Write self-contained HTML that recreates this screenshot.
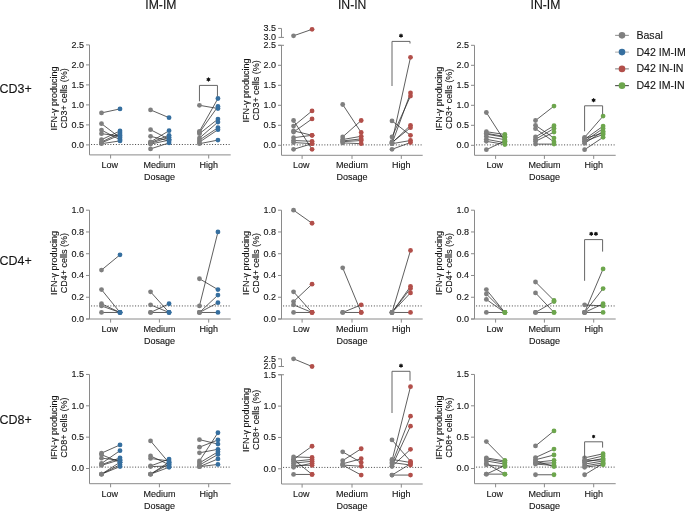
<!DOCTYPE html><html><head><meta charset="utf-8"><title>IFN-gamma producing cells</title><style>
html,body{margin:0;padding:0;background:#fff;width:685px;height:511px;overflow:hidden}
svg{display:block;will-change:transform}
text{font-family:"Liberation Sans",sans-serif;fill:#141414;stroke:#141414;stroke-width:0.12px}
.t{font-size:9px}.tk{font-size:9px;text-anchor:end}.c{text-anchor:middle}
.h{font-size:12.5px}.ht{font-size:12.2px}.lg{font-size:10.6px}
</style></head><body>
<svg width="685" height="511" viewBox="0 0 685 511">
<text class="ht c" x="160.9" y="9.2">IM-IM</text>
<text class="ht c" x="352.2" y="9.2">IN-IN</text>
<text class="ht c" x="545.5" y="9.2">IN-IM</text>
<text class="h" x="-0.6" y="92.8">CD3+</text>
<text class="h" x="-0.6" y="264.6">CD4+</text>
<text class="h" x="-0.6" y="424.2">CD8+</text>
<line x1="615.1" y1="35.35" x2="628.9" y2="35.35" stroke="#8c8c8c" stroke-width="1"/>
<circle cx="622" cy="35.35" r="3.3" fill="#7f7f7f"/>
<text class="lg" x="636.4" y="38.85">Basal</text>
<line x1="615.1" y1="52.12" x2="628.9" y2="52.12" stroke="#a8a8a8" stroke-width="1"/>
<circle cx="622" cy="52.12" r="3.3" fill="#366f9f"/>
<text class="lg" x="636.4" y="55.62">D42 IM-IM</text>
<line x1="615.1" y1="68.89" x2="628.9" y2="68.89" stroke="#7a7a7a" stroke-width="1"/>
<circle cx="622" cy="68.89" r="3.3" fill="#b24f4a"/>
<text class="lg" x="636.4" y="72.39">D42 IN-IN</text>
<line x1="615.1" y1="85.66" x2="628.9" y2="85.66" stroke="#3a3a3a" stroke-width="1"/>
<circle cx="622" cy="85.66" r="3.3" fill="#6da64d"/>
<text class="lg" x="636.4" y="89.16">D42 IM-IN</text>
<path d="M89.5 44.9V154.9H230.7" fill="none" stroke="#8a8a8a" stroke-width="1"/><line x1="86" y1="144.9" x2="89.5" y2="144.9" stroke="#8a8a8a" stroke-width="1"/><text class="tk" x="84.1" y="147.8">0.0</text><line x1="86" y1="124.9" x2="89.5" y2="124.9" stroke="#8a8a8a" stroke-width="1"/><text class="tk" x="84.1" y="127.8">0.5</text><line x1="86" y1="104.9" x2="89.5" y2="104.9" stroke="#8a8a8a" stroke-width="1"/><text class="tk" x="84.1" y="107.8">1.0</text><line x1="86" y1="84.9" x2="89.5" y2="84.9" stroke="#8a8a8a" stroke-width="1"/><text class="tk" x="84.1" y="87.8">1.5</text><line x1="86" y1="64.9" x2="89.5" y2="64.9" stroke="#8a8a8a" stroke-width="1"/><text class="tk" x="84.1" y="67.8">2.0</text><line x1="86" y1="44.9" x2="89.5" y2="44.9" stroke="#8a8a8a" stroke-width="1"/><text class="tk" x="84.1" y="47.8">2.5</text><line x1="110.6" y1="154.9" x2="110.6" y2="158.5" stroke="#8a8a8a" stroke-width="1"/><text class="c" style="font-size:9px" transform="translate(109.8 168.1) scale(1 1)">Low</text><line x1="159.4" y1="154.9" x2="159.4" y2="158.5" stroke="#8a8a8a" stroke-width="1"/><text class="c" style="font-size:9px" transform="translate(159.4 168.1) scale(1 1)">Medium</text><line x1="208.7" y1="154.9" x2="208.7" y2="158.5" stroke="#8a8a8a" stroke-width="1"/><text class="c" style="font-size:9px" transform="translate(208.7 168.1) scale(1 1)">High</text><text class="c" style="font-size:9px" transform="translate(159.4 180.3) scale(1 1)">Dosage</text><text class="t c" transform="translate(56.7 98.4) rotate(-90)" x="0" y="0">IFN-γ producing</text><text class="t c" transform="translate(67 98.4) rotate(-90)" x="0" y="0">CD3+ cells (%)</text><line x1="91.1" y1="144.5" x2="230.7" y2="144.5" stroke="#444" stroke-width="1" stroke-dasharray="1 1.75"/><path d="M101.5 112.9L120 108.9M101.5 123.7L120 137.7M101.5 130.1L120 139.7M101.5 133.7L120 136.1M101.5 139.7L120 130.9M101.5 142.1L120 132.9M101.5 142.9L120 134.9M101.5 143.7L120 140.9M150.55 109.9L169.05 117.7M150.55 129.7L169.05 139.3M150.55 136.3L169.05 140.9M150.55 141.9L169.05 130.7M150.55 143.3L169.05 137.3M150.55 148.9L169.05 142.9M150.55 142.5L169.05 135.3M150.55 144.1L169.05 140.1M199.45 105.3L217.95 108.5M199.45 131.3L217.95 98.5M199.45 132.5L217.95 106.5M199.45 133.7L217.95 119.1M199.45 138.1L217.95 122.1M199.45 140.1L217.95 127.7M199.45 142.1L217.95 129.7M199.45 143.7L217.95 140.1" fill="none" stroke="#2a2a2a" stroke-width="0.75"/><circle cx="101.5" cy="112.9" r="2.4" fill="#7f7f7f"/><circle cx="120" cy="108.9" r="2.4" fill="#366f9f"/><circle cx="101.5" cy="123.7" r="2.4" fill="#7f7f7f"/><circle cx="120" cy="137.7" r="2.4" fill="#366f9f"/><circle cx="101.5" cy="130.1" r="2.4" fill="#7f7f7f"/><circle cx="120" cy="139.7" r="2.4" fill="#366f9f"/><circle cx="101.5" cy="133.7" r="2.4" fill="#7f7f7f"/><circle cx="120" cy="136.1" r="2.4" fill="#366f9f"/><circle cx="101.5" cy="139.7" r="2.4" fill="#7f7f7f"/><circle cx="120" cy="130.9" r="2.4" fill="#366f9f"/><circle cx="101.5" cy="142.1" r="2.4" fill="#7f7f7f"/><circle cx="120" cy="132.9" r="2.4" fill="#366f9f"/><circle cx="101.5" cy="142.9" r="2.4" fill="#7f7f7f"/><circle cx="120" cy="134.9" r="2.4" fill="#366f9f"/><circle cx="101.5" cy="143.7" r="2.4" fill="#7f7f7f"/><circle cx="120" cy="140.9" r="2.4" fill="#366f9f"/><circle cx="150.55" cy="109.9" r="2.4" fill="#7f7f7f"/><circle cx="169.05" cy="117.7" r="2.4" fill="#366f9f"/><circle cx="150.55" cy="129.7" r="2.4" fill="#7f7f7f"/><circle cx="169.05" cy="139.3" r="2.4" fill="#366f9f"/><circle cx="150.55" cy="136.3" r="2.4" fill="#7f7f7f"/><circle cx="169.05" cy="140.9" r="2.4" fill="#366f9f"/><circle cx="150.55" cy="141.9" r="2.4" fill="#7f7f7f"/><circle cx="169.05" cy="130.7" r="2.4" fill="#366f9f"/><circle cx="150.55" cy="143.3" r="2.4" fill="#7f7f7f"/><circle cx="169.05" cy="137.3" r="2.4" fill="#366f9f"/><circle cx="150.55" cy="148.9" r="2.4" fill="#7f7f7f"/><circle cx="169.05" cy="142.9" r="2.4" fill="#366f9f"/><circle cx="150.55" cy="142.5" r="2.4" fill="#7f7f7f"/><circle cx="169.05" cy="135.3" r="2.4" fill="#366f9f"/><circle cx="150.55" cy="144.1" r="2.4" fill="#7f7f7f"/><circle cx="169.05" cy="140.1" r="2.4" fill="#366f9f"/><circle cx="199.45" cy="105.3" r="2.4" fill="#7f7f7f"/><circle cx="217.95" cy="108.5" r="2.4" fill="#366f9f"/><circle cx="199.45" cy="131.3" r="2.4" fill="#7f7f7f"/><circle cx="217.95" cy="98.5" r="2.4" fill="#366f9f"/><circle cx="199.45" cy="132.5" r="2.4" fill="#7f7f7f"/><circle cx="217.95" cy="106.5" r="2.4" fill="#366f9f"/><circle cx="199.45" cy="133.7" r="2.4" fill="#7f7f7f"/><circle cx="217.95" cy="119.1" r="2.4" fill="#366f9f"/><circle cx="199.45" cy="138.1" r="2.4" fill="#7f7f7f"/><circle cx="217.95" cy="122.1" r="2.4" fill="#366f9f"/><circle cx="199.45" cy="140.1" r="2.4" fill="#7f7f7f"/><circle cx="217.95" cy="127.7" r="2.4" fill="#366f9f"/><circle cx="199.45" cy="142.1" r="2.4" fill="#7f7f7f"/><circle cx="217.95" cy="129.7" r="2.4" fill="#366f9f"/><circle cx="199.45" cy="143.7" r="2.4" fill="#7f7f7f"/><circle cx="217.95" cy="140.1" r="2.4" fill="#366f9f"/><path d="M199.45 101.3V85.4H217.45V96.3" fill="none" stroke="#666" stroke-width="1"/><circle cx="208.45" cy="79.5" r="1.3" fill="#111"/><line x1="208.45" y1="77.9" x2="208.45" y2="81.1" stroke="#111" stroke-width="1.1" stroke-linecap="round"/><line x1="207.06" y1="78.7" x2="209.84" y2="80.3" stroke="#111" stroke-width="1.1" stroke-linecap="round"/><line x1="209.84" y1="78.7" x2="207.06" y2="80.3" stroke="#111" stroke-width="1.1" stroke-linecap="round"/>
<path d="M281.5 45.3V155.3H422.7" fill="none" stroke="#8a8a8a" stroke-width="1"/><line x1="278" y1="145.3" x2="281.5" y2="145.3" stroke="#8a8a8a" stroke-width="1"/><text class="tk" x="276.1" y="148.2">0.0</text><line x1="278" y1="125.3" x2="281.5" y2="125.3" stroke="#8a8a8a" stroke-width="1"/><text class="tk" x="276.1" y="128.2">0.5</text><line x1="278" y1="105.3" x2="281.5" y2="105.3" stroke="#8a8a8a" stroke-width="1"/><text class="tk" x="276.1" y="108.2">1.0</text><line x1="278" y1="85.3" x2="281.5" y2="85.3" stroke="#8a8a8a" stroke-width="1"/><text class="tk" x="276.1" y="88.2">1.5</text><line x1="278" y1="65.3" x2="281.5" y2="65.3" stroke="#8a8a8a" stroke-width="1"/><text class="tk" x="276.1" y="68.2">2.0</text><line x1="278" y1="45.3" x2="281.5" y2="45.3" stroke="#8a8a8a" stroke-width="1"/><text class="tk" x="276.1" y="48.2">2.5</text><path d="M281.5 28.45V37.4" fill="none" stroke="#8a8a8a" stroke-width="1"/><line x1="278" y1="28.45" x2="281.5" y2="28.45" stroke="#8a8a8a" stroke-width="1"/><line x1="278.5" y1="37.4" x2="284" y2="37.4" stroke="#8a8a8a" stroke-width="1"/><line x1="278.5" y1="45.3" x2="284" y2="45.3" stroke="#8a8a8a" stroke-width="1"/><text class="tk" x="276.1" y="31.35">3.5</text><text class="tk" x="276.1" y="40.3">3.0</text><line x1="302.1" y1="155.3" x2="302.1" y2="158.9" stroke="#8a8a8a" stroke-width="1"/><text class="c" style="font-size:9px" transform="translate(301.3 168.1) scale(1 1)">Low</text><line x1="352" y1="155.3" x2="352" y2="158.9" stroke="#8a8a8a" stroke-width="1"/><text class="c" style="font-size:9px" transform="translate(352 168.1) scale(1 1)">Medium</text><line x1="401.3" y1="155.3" x2="401.3" y2="158.9" stroke="#8a8a8a" stroke-width="1"/><text class="c" style="font-size:9px" transform="translate(401.3 168.1) scale(1 1)">High</text><text class="c" style="font-size:9px" transform="translate(352 180.3) scale(1 1)">Dosage</text><text class="t c" transform="translate(248.7 90.38) rotate(-90)" x="0" y="0">IFN-γ producing</text><text class="t c" transform="translate(259 90.38) rotate(-90)" x="0" y="0">CD3+ cells (%)</text><line x1="283.1" y1="144.9" x2="422.7" y2="144.9" stroke="#444" stroke-width="1" stroke-dasharray="1 1.75"/><path d="M293.55 35.79L312.05 29.34M293.55 126.1L312.05 110.9M293.55 132.1L312.05 118.9M293.55 120.5L312.05 149.3M293.55 130.9L312.05 135.3M293.55 137.7L312.05 135.3M293.55 140.5L312.05 141.3M293.55 142.5L312.05 143.7M293.55 149.3L312.05 143.7M342.7 104.5L361.2 132.5M342.7 136.9L361.2 120.5M342.7 139.5L361.2 136.3M342.7 141.7L361.2 140.5M342.7 142.9L361.2 143.7M342.7 140.9L361.2 138.9M392 141.7L410.5 57.3M392 143.7L410.5 92.9M392 136.9L410.5 96.1M392 120.9L410.5 135.3M392 142.9L410.5 125.3M392 142.5L410.5 127.7M392 143.7L410.5 140.5M392 149.3L410.5 142.5" fill="none" stroke="#2a2a2a" stroke-width="0.75"/><circle cx="293.55" cy="35.79" r="2.4" fill="#7f7f7f"/><circle cx="312.05" cy="29.34" r="2.4" fill="#b24f4a"/><circle cx="293.55" cy="126.1" r="2.4" fill="#7f7f7f"/><circle cx="312.05" cy="110.9" r="2.4" fill="#b24f4a"/><circle cx="293.55" cy="132.1" r="2.4" fill="#7f7f7f"/><circle cx="312.05" cy="118.9" r="2.4" fill="#b24f4a"/><circle cx="293.55" cy="120.5" r="2.4" fill="#7f7f7f"/><circle cx="312.05" cy="149.3" r="2.4" fill="#b24f4a"/><circle cx="293.55" cy="130.9" r="2.4" fill="#7f7f7f"/><circle cx="312.05" cy="135.3" r="2.4" fill="#b24f4a"/><circle cx="293.55" cy="137.7" r="2.4" fill="#7f7f7f"/><circle cx="312.05" cy="135.3" r="2.4" fill="#b24f4a"/><circle cx="293.55" cy="140.5" r="2.4" fill="#7f7f7f"/><circle cx="312.05" cy="141.3" r="2.4" fill="#b24f4a"/><circle cx="293.55" cy="142.5" r="2.4" fill="#7f7f7f"/><circle cx="312.05" cy="143.7" r="2.4" fill="#b24f4a"/><circle cx="293.55" cy="149.3" r="2.4" fill="#7f7f7f"/><circle cx="312.05" cy="143.7" r="2.4" fill="#b24f4a"/><circle cx="342.7" cy="104.5" r="2.4" fill="#7f7f7f"/><circle cx="361.2" cy="132.5" r="2.4" fill="#b24f4a"/><circle cx="342.7" cy="136.9" r="2.4" fill="#7f7f7f"/><circle cx="361.2" cy="120.5" r="2.4" fill="#b24f4a"/><circle cx="342.7" cy="139.5" r="2.4" fill="#7f7f7f"/><circle cx="361.2" cy="136.3" r="2.4" fill="#b24f4a"/><circle cx="342.7" cy="141.7" r="2.4" fill="#7f7f7f"/><circle cx="361.2" cy="140.5" r="2.4" fill="#b24f4a"/><circle cx="342.7" cy="142.9" r="2.4" fill="#7f7f7f"/><circle cx="361.2" cy="143.7" r="2.4" fill="#b24f4a"/><circle cx="342.7" cy="140.9" r="2.4" fill="#7f7f7f"/><circle cx="361.2" cy="138.9" r="2.4" fill="#b24f4a"/><circle cx="392" cy="141.7" r="2.4" fill="#7f7f7f"/><circle cx="410.5" cy="57.3" r="2.4" fill="#b24f4a"/><circle cx="392" cy="143.7" r="2.4" fill="#7f7f7f"/><circle cx="410.5" cy="92.9" r="2.4" fill="#b24f4a"/><circle cx="392" cy="136.9" r="2.4" fill="#7f7f7f"/><circle cx="410.5" cy="96.1" r="2.4" fill="#b24f4a"/><circle cx="392" cy="120.9" r="2.4" fill="#7f7f7f"/><circle cx="410.5" cy="135.3" r="2.4" fill="#b24f4a"/><circle cx="392" cy="142.9" r="2.4" fill="#7f7f7f"/><circle cx="410.5" cy="125.3" r="2.4" fill="#b24f4a"/><circle cx="392" cy="142.5" r="2.4" fill="#7f7f7f"/><circle cx="410.5" cy="127.7" r="2.4" fill="#b24f4a"/><circle cx="392" cy="143.7" r="2.4" fill="#7f7f7f"/><circle cx="410.5" cy="140.5" r="2.4" fill="#b24f4a"/><circle cx="392" cy="149.3" r="2.4" fill="#7f7f7f"/><circle cx="410.5" cy="142.5" r="2.4" fill="#b24f4a"/><path d="M392 86V41.4H410V43.5" fill="none" stroke="#666" stroke-width="1"/><circle cx="401" cy="35.7" r="1.3" fill="#111"/><line x1="401" y1="34.1" x2="401" y2="37.3" stroke="#111" stroke-width="1.1" stroke-linecap="round"/><line x1="399.61" y1="34.9" x2="402.39" y2="36.5" stroke="#111" stroke-width="1.1" stroke-linecap="round"/><line x1="402.39" y1="34.9" x2="399.61" y2="36.5" stroke="#111" stroke-width="1.1" stroke-linecap="round"/>
<path d="M474.5 45.3V155.3H615.7" fill="none" stroke="#8a8a8a" stroke-width="1"/><line x1="471" y1="145.3" x2="474.5" y2="145.3" stroke="#8a8a8a" stroke-width="1"/><text class="tk" x="469.1" y="148.2">0.0</text><line x1="471" y1="125.3" x2="474.5" y2="125.3" stroke="#8a8a8a" stroke-width="1"/><text class="tk" x="469.1" y="128.2">0.5</text><line x1="471" y1="105.3" x2="474.5" y2="105.3" stroke="#8a8a8a" stroke-width="1"/><text class="tk" x="469.1" y="108.2">1.0</text><line x1="471" y1="85.3" x2="474.5" y2="85.3" stroke="#8a8a8a" stroke-width="1"/><text class="tk" x="469.1" y="88.2">1.5</text><line x1="471" y1="65.3" x2="474.5" y2="65.3" stroke="#8a8a8a" stroke-width="1"/><text class="tk" x="469.1" y="68.2">2.0</text><line x1="471" y1="45.3" x2="474.5" y2="45.3" stroke="#8a8a8a" stroke-width="1"/><text class="tk" x="469.1" y="48.2">2.5</text><line x1="495.6" y1="155.3" x2="495.6" y2="158.9" stroke="#8a8a8a" stroke-width="1"/><text class="c" style="font-size:9px" transform="translate(494.8 168.1) scale(1 1)">Low</text><line x1="544.4" y1="155.3" x2="544.4" y2="158.9" stroke="#8a8a8a" stroke-width="1"/><text class="c" style="font-size:9px" transform="translate(544.4 168.1) scale(1 1)">Medium</text><line x1="593.7" y1="155.3" x2="593.7" y2="158.9" stroke="#8a8a8a" stroke-width="1"/><text class="c" style="font-size:9px" transform="translate(593.7 168.1) scale(1 1)">High</text><text class="c" style="font-size:9px" transform="translate(544.4 180.3) scale(1 1)">Dosage</text><text class="t c" transform="translate(441.7 98.8) rotate(-90)" x="0" y="0">IFN-γ producing</text><text class="t c" transform="translate(452 98.8) rotate(-90)" x="0" y="0">CD3+ cells (%)</text><line x1="476.1" y1="144.9" x2="615.7" y2="144.9" stroke="#444" stroke-width="1" stroke-dasharray="1 1.75"/><path d="M486.35 112.5L504.85 141.3M486.35 131.7L504.85 134.5M486.35 134.1L504.85 137.3M486.35 136.5L504.85 139.7M486.35 139.3L504.85 142.7M486.35 141.3L504.85 144.5M486.35 149.7L504.85 140.9M486.35 133.3L504.85 136.5M535.5 120.5L554 106.1M535.5 125.3L554 138.1M535.5 128.7L554 141.9M535.5 136.9L554 125.7M535.5 139.3L554 128.5M535.5 141.3L554 132.1M535.5 144.1L554 144.1M584.6 137.3L603.1 116.1M584.6 139.3L603.1 126.1M584.6 141.3L603.1 128.5M584.6 143.3L603.1 131.3M584.6 141.3L603.1 134.5M584.6 149.7L603.1 137.3M584.6 138.5L603.1 132.9" fill="none" stroke="#2a2a2a" stroke-width="0.75"/><circle cx="486.35" cy="112.5" r="2.4" fill="#7f7f7f"/><circle cx="504.85" cy="141.3" r="2.4" fill="#6da64d"/><circle cx="486.35" cy="131.7" r="2.4" fill="#7f7f7f"/><circle cx="504.85" cy="134.5" r="2.4" fill="#6da64d"/><circle cx="486.35" cy="134.1" r="2.4" fill="#7f7f7f"/><circle cx="504.85" cy="137.3" r="2.4" fill="#6da64d"/><circle cx="486.35" cy="136.5" r="2.4" fill="#7f7f7f"/><circle cx="504.85" cy="139.7" r="2.4" fill="#6da64d"/><circle cx="486.35" cy="139.3" r="2.4" fill="#7f7f7f"/><circle cx="504.85" cy="142.7" r="2.4" fill="#6da64d"/><circle cx="486.35" cy="141.3" r="2.4" fill="#7f7f7f"/><circle cx="504.85" cy="144.5" r="2.4" fill="#6da64d"/><circle cx="486.35" cy="149.7" r="2.4" fill="#7f7f7f"/><circle cx="504.85" cy="140.9" r="2.4" fill="#6da64d"/><circle cx="486.35" cy="133.3" r="2.4" fill="#7f7f7f"/><circle cx="504.85" cy="136.5" r="2.4" fill="#6da64d"/><circle cx="535.5" cy="120.5" r="2.4" fill="#7f7f7f"/><circle cx="554" cy="106.1" r="2.4" fill="#6da64d"/><circle cx="535.5" cy="125.3" r="2.4" fill="#7f7f7f"/><circle cx="554" cy="138.1" r="2.4" fill="#6da64d"/><circle cx="535.5" cy="128.7" r="2.4" fill="#7f7f7f"/><circle cx="554" cy="141.9" r="2.4" fill="#6da64d"/><circle cx="535.5" cy="136.9" r="2.4" fill="#7f7f7f"/><circle cx="554" cy="125.7" r="2.4" fill="#6da64d"/><circle cx="535.5" cy="139.3" r="2.4" fill="#7f7f7f"/><circle cx="554" cy="128.5" r="2.4" fill="#6da64d"/><circle cx="535.5" cy="141.3" r="2.4" fill="#7f7f7f"/><circle cx="554" cy="132.1" r="2.4" fill="#6da64d"/><circle cx="535.5" cy="144.1" r="2.4" fill="#7f7f7f"/><circle cx="554" cy="144.1" r="2.4" fill="#6da64d"/><circle cx="584.6" cy="137.3" r="2.4" fill="#7f7f7f"/><circle cx="603.1" cy="116.1" r="2.4" fill="#6da64d"/><circle cx="584.6" cy="139.3" r="2.4" fill="#7f7f7f"/><circle cx="603.1" cy="126.1" r="2.4" fill="#6da64d"/><circle cx="584.6" cy="141.3" r="2.4" fill="#7f7f7f"/><circle cx="603.1" cy="128.5" r="2.4" fill="#6da64d"/><circle cx="584.6" cy="143.3" r="2.4" fill="#7f7f7f"/><circle cx="603.1" cy="131.3" r="2.4" fill="#6da64d"/><circle cx="584.6" cy="141.3" r="2.4" fill="#7f7f7f"/><circle cx="603.1" cy="134.5" r="2.4" fill="#6da64d"/><circle cx="584.6" cy="149.7" r="2.4" fill="#7f7f7f"/><circle cx="603.1" cy="137.3" r="2.4" fill="#6da64d"/><circle cx="584.6" cy="138.5" r="2.4" fill="#7f7f7f"/><circle cx="603.1" cy="132.9" r="2.4" fill="#6da64d"/><path d="M584.6 131.3V105.8H602.6V114.3" fill="none" stroke="#666" stroke-width="1"/><circle cx="593.6" cy="100.2" r="1.3" fill="#111"/><line x1="593.6" y1="98.6" x2="593.6" y2="101.8" stroke="#111" stroke-width="1.1" stroke-linecap="round"/><line x1="592.21" y1="99.4" x2="594.99" y2="101" stroke="#111" stroke-width="1.1" stroke-linecap="round"/><line x1="594.99" y1="99.4" x2="592.21" y2="101" stroke="#111" stroke-width="1.1" stroke-linecap="round"/>
<path d="M89.5 210.2V319H230.7" fill="none" stroke="#8a8a8a" stroke-width="1"/><line x1="86" y1="319" x2="89.5" y2="319" stroke="#8a8a8a" stroke-width="1"/><line x1="86" y1="319" x2="89.5" y2="319" stroke="#8a8a8a" stroke-width="1"/><text class="tk" x="84.1" y="321.9">0.0</text><line x1="86" y1="297.24" x2="89.5" y2="297.24" stroke="#8a8a8a" stroke-width="1"/><text class="tk" x="84.1" y="300.14">0.2</text><line x1="86" y1="275.48" x2="89.5" y2="275.48" stroke="#8a8a8a" stroke-width="1"/><text class="tk" x="84.1" y="278.38">0.4</text><line x1="86" y1="253.72" x2="89.5" y2="253.72" stroke="#8a8a8a" stroke-width="1"/><text class="tk" x="84.1" y="256.62">0.6</text><line x1="86" y1="231.96" x2="89.5" y2="231.96" stroke="#8a8a8a" stroke-width="1"/><text class="tk" x="84.1" y="234.86">0.8</text><line x1="86" y1="210.2" x2="89.5" y2="210.2" stroke="#8a8a8a" stroke-width="1"/><text class="tk" x="84.1" y="213.1">1.0</text><line x1="110.6" y1="319" x2="110.6" y2="322.6" stroke="#8a8a8a" stroke-width="1"/><text class="c" style="font-size:9px" transform="translate(109.8 332.2) scale(1 1)">Low</text><line x1="159.4" y1="319" x2="159.4" y2="322.6" stroke="#8a8a8a" stroke-width="1"/><text class="c" style="font-size:9px" transform="translate(159.4 332.2) scale(1 1)">Medium</text><line x1="208.7" y1="319" x2="208.7" y2="322.6" stroke="#8a8a8a" stroke-width="1"/><text class="c" style="font-size:9px" transform="translate(208.7 332.2) scale(1 1)">High</text><text class="c" style="font-size:9px" transform="translate(159.4 344.4) scale(1 1)">Dosage</text><text class="t c" transform="translate(56.7 263.1) rotate(-90)" x="0" y="0">IFN-γ producing</text><text class="t c" transform="translate(67 263.1) rotate(-90)" x="0" y="0">CD4+ cells (%)</text><line x1="91.1" y1="305.94" x2="230.7" y2="305.94" stroke="#444" stroke-width="1" stroke-dasharray="1 1.75"/><path d="M101.5 270.04L120 254.81M101.5 289.62L120 312.47M101.5 303.77L120 312.47M101.5 305.94L120 312.47M101.5 312.47L120 312.47M150.55 291.8L169.05 312.47M150.55 304.86L169.05 312.47M150.55 312.47L169.05 303.77M150.55 312.47L169.05 312.47M199.45 305.94L217.95 231.96M199.45 278.74L217.95 289.62M199.45 312.47L217.95 295.06M199.45 312.47L217.95 302.68M199.45 312.47L217.95 312.47" fill="none" stroke="#2a2a2a" stroke-width="0.75"/><circle cx="101.5" cy="270.04" r="2.4" fill="#7f7f7f"/><circle cx="120" cy="254.81" r="2.4" fill="#366f9f"/><circle cx="101.5" cy="289.62" r="2.4" fill="#7f7f7f"/><circle cx="120" cy="312.47" r="2.4" fill="#366f9f"/><circle cx="101.5" cy="303.77" r="2.4" fill="#7f7f7f"/><circle cx="120" cy="312.47" r="2.4" fill="#366f9f"/><circle cx="101.5" cy="305.94" r="2.4" fill="#7f7f7f"/><circle cx="120" cy="312.47" r="2.4" fill="#366f9f"/><circle cx="101.5" cy="312.47" r="2.4" fill="#7f7f7f"/><circle cx="120" cy="312.47" r="2.4" fill="#366f9f"/><circle cx="150.55" cy="291.8" r="2.4" fill="#7f7f7f"/><circle cx="169.05" cy="312.47" r="2.4" fill="#366f9f"/><circle cx="150.55" cy="304.86" r="2.4" fill="#7f7f7f"/><circle cx="169.05" cy="312.47" r="2.4" fill="#366f9f"/><circle cx="150.55" cy="312.47" r="2.4" fill="#7f7f7f"/><circle cx="169.05" cy="303.77" r="2.4" fill="#366f9f"/><circle cx="150.55" cy="312.47" r="2.4" fill="#7f7f7f"/><circle cx="169.05" cy="312.47" r="2.4" fill="#366f9f"/><circle cx="199.45" cy="305.94" r="2.4" fill="#7f7f7f"/><circle cx="217.95" cy="231.96" r="2.4" fill="#366f9f"/><circle cx="199.45" cy="278.74" r="2.4" fill="#7f7f7f"/><circle cx="217.95" cy="289.62" r="2.4" fill="#366f9f"/><circle cx="199.45" cy="312.47" r="2.4" fill="#7f7f7f"/><circle cx="217.95" cy="295.06" r="2.4" fill="#366f9f"/><circle cx="199.45" cy="312.47" r="2.4" fill="#7f7f7f"/><circle cx="217.95" cy="302.68" r="2.4" fill="#366f9f"/><circle cx="199.45" cy="312.47" r="2.4" fill="#7f7f7f"/><circle cx="217.95" cy="312.47" r="2.4" fill="#366f9f"/>
<path d="M281.5 210.2V319H422.7" fill="none" stroke="#8a8a8a" stroke-width="1"/><line x1="278" y1="319" x2="281.5" y2="319" stroke="#8a8a8a" stroke-width="1"/><line x1="278" y1="319" x2="281.5" y2="319" stroke="#8a8a8a" stroke-width="1"/><text class="tk" x="276.1" y="321.9">0.0</text><line x1="278" y1="297.24" x2="281.5" y2="297.24" stroke="#8a8a8a" stroke-width="1"/><text class="tk" x="276.1" y="300.14">0.2</text><line x1="278" y1="275.48" x2="281.5" y2="275.48" stroke="#8a8a8a" stroke-width="1"/><text class="tk" x="276.1" y="278.38">0.4</text><line x1="278" y1="253.72" x2="281.5" y2="253.72" stroke="#8a8a8a" stroke-width="1"/><text class="tk" x="276.1" y="256.62">0.6</text><line x1="278" y1="231.96" x2="281.5" y2="231.96" stroke="#8a8a8a" stroke-width="1"/><text class="tk" x="276.1" y="234.86">0.8</text><line x1="278" y1="210.2" x2="281.5" y2="210.2" stroke="#8a8a8a" stroke-width="1"/><text class="tk" x="276.1" y="213.1">1.0</text><line x1="302.1" y1="319" x2="302.1" y2="322.6" stroke="#8a8a8a" stroke-width="1"/><text class="c" style="font-size:9px" transform="translate(301.3 332.2) scale(1 1)">Low</text><line x1="352" y1="319" x2="352" y2="322.6" stroke="#8a8a8a" stroke-width="1"/><text class="c" style="font-size:9px" transform="translate(352 332.2) scale(1 1)">Medium</text><line x1="401.3" y1="319" x2="401.3" y2="322.6" stroke="#8a8a8a" stroke-width="1"/><text class="c" style="font-size:9px" transform="translate(401.3 332.2) scale(1 1)">High</text><text class="c" style="font-size:9px" transform="translate(352 344.4) scale(1 1)">Dosage</text><text class="t c" transform="translate(248.7 263.1) rotate(-90)" x="0" y="0">IFN-γ producing</text><text class="t c" transform="translate(259 263.1) rotate(-90)" x="0" y="0">CD4+ cells (%)</text><line x1="283.1" y1="305.94" x2="422.7" y2="305.94" stroke="#444" stroke-width="1" stroke-dasharray="1 1.75"/><path d="M293.55 210.2L312.05 223.26M293.55 301.59L312.05 284.18M293.55 291.8L312.05 312.47M293.55 304.86L312.05 312.47M293.55 312.47L312.05 312.47M342.7 267.86L361.2 312.47M342.7 312.47L361.2 304.86M342.7 312.47L361.2 312.47M392 312.47L410.5 250.46M392 312.47L410.5 286.36M392 312.47L410.5 288.54M392 312.47L410.5 292.89M392 312.47L410.5 312.47" fill="none" stroke="#2a2a2a" stroke-width="0.75"/><circle cx="293.55" cy="210.2" r="2.4" fill="#7f7f7f"/><circle cx="312.05" cy="223.26" r="2.4" fill="#b24f4a"/><circle cx="293.55" cy="301.59" r="2.4" fill="#7f7f7f"/><circle cx="312.05" cy="284.18" r="2.4" fill="#b24f4a"/><circle cx="293.55" cy="291.8" r="2.4" fill="#7f7f7f"/><circle cx="312.05" cy="312.47" r="2.4" fill="#b24f4a"/><circle cx="293.55" cy="304.86" r="2.4" fill="#7f7f7f"/><circle cx="312.05" cy="312.47" r="2.4" fill="#b24f4a"/><circle cx="293.55" cy="312.47" r="2.4" fill="#7f7f7f"/><circle cx="312.05" cy="312.47" r="2.4" fill="#b24f4a"/><circle cx="342.7" cy="267.86" r="2.4" fill="#7f7f7f"/><circle cx="361.2" cy="312.47" r="2.4" fill="#b24f4a"/><circle cx="342.7" cy="312.47" r="2.4" fill="#7f7f7f"/><circle cx="361.2" cy="304.86" r="2.4" fill="#b24f4a"/><circle cx="342.7" cy="312.47" r="2.4" fill="#7f7f7f"/><circle cx="361.2" cy="312.47" r="2.4" fill="#b24f4a"/><circle cx="392" cy="312.47" r="2.4" fill="#7f7f7f"/><circle cx="410.5" cy="250.46" r="2.4" fill="#b24f4a"/><circle cx="392" cy="312.47" r="2.4" fill="#7f7f7f"/><circle cx="410.5" cy="286.36" r="2.4" fill="#b24f4a"/><circle cx="392" cy="312.47" r="2.4" fill="#7f7f7f"/><circle cx="410.5" cy="288.54" r="2.4" fill="#b24f4a"/><circle cx="392" cy="312.47" r="2.4" fill="#7f7f7f"/><circle cx="410.5" cy="292.89" r="2.4" fill="#b24f4a"/><circle cx="392" cy="312.47" r="2.4" fill="#7f7f7f"/><circle cx="410.5" cy="312.47" r="2.4" fill="#b24f4a"/>
<path d="M474.5 210.2V319H615.7" fill="none" stroke="#8a8a8a" stroke-width="1"/><line x1="471" y1="319" x2="474.5" y2="319" stroke="#8a8a8a" stroke-width="1"/><line x1="471" y1="319" x2="474.5" y2="319" stroke="#8a8a8a" stroke-width="1"/><text class="tk" x="469.1" y="321.9">0.0</text><line x1="471" y1="297.24" x2="474.5" y2="297.24" stroke="#8a8a8a" stroke-width="1"/><text class="tk" x="469.1" y="300.14">0.2</text><line x1="471" y1="275.48" x2="474.5" y2="275.48" stroke="#8a8a8a" stroke-width="1"/><text class="tk" x="469.1" y="278.38">0.4</text><line x1="471" y1="253.72" x2="474.5" y2="253.72" stroke="#8a8a8a" stroke-width="1"/><text class="tk" x="469.1" y="256.62">0.6</text><line x1="471" y1="231.96" x2="474.5" y2="231.96" stroke="#8a8a8a" stroke-width="1"/><text class="tk" x="469.1" y="234.86">0.8</text><line x1="471" y1="210.2" x2="474.5" y2="210.2" stroke="#8a8a8a" stroke-width="1"/><text class="tk" x="469.1" y="213.1">1.0</text><line x1="495.6" y1="319" x2="495.6" y2="322.6" stroke="#8a8a8a" stroke-width="1"/><text class="c" style="font-size:9px" transform="translate(494.8 332.2) scale(1 1)">Low</text><line x1="544.4" y1="319" x2="544.4" y2="322.6" stroke="#8a8a8a" stroke-width="1"/><text class="c" style="font-size:9px" transform="translate(544.4 332.2) scale(1 1)">Medium</text><line x1="593.7" y1="319" x2="593.7" y2="322.6" stroke="#8a8a8a" stroke-width="1"/><text class="c" style="font-size:9px" transform="translate(593.7 332.2) scale(1 1)">High</text><text class="c" style="font-size:9px" transform="translate(544.4 344.4) scale(1 1)">Dosage</text><text class="t c" transform="translate(441.7 263.1) rotate(-90)" x="0" y="0">IFN-γ producing</text><text class="t c" transform="translate(452 263.1) rotate(-90)" x="0" y="0">CD4+ cells (%)</text><line x1="476.1" y1="305.94" x2="615.7" y2="305.94" stroke="#444" stroke-width="1" stroke-dasharray="1 1.75"/><path d="M486.35 289.62L504.85 312.47M486.35 293.98L504.85 312.47M486.35 299.42L504.85 312.47M486.35 312.47L504.85 312.47M535.5 282.01L554 300.5M535.5 292.89L554 312.47M535.5 312.47L554 301.59M535.5 312.47L554 312.47M584.6 312.47L603.1 268.95M584.6 312.47L603.1 288.54M584.6 312.47L603.1 303.77M584.6 304.86L603.1 305.94M584.6 312.47L603.1 312.47" fill="none" stroke="#2a2a2a" stroke-width="0.75"/><circle cx="486.35" cy="289.62" r="2.4" fill="#7f7f7f"/><circle cx="504.85" cy="312.47" r="2.4" fill="#6da64d"/><circle cx="486.35" cy="293.98" r="2.4" fill="#7f7f7f"/><circle cx="504.85" cy="312.47" r="2.4" fill="#6da64d"/><circle cx="486.35" cy="299.42" r="2.4" fill="#7f7f7f"/><circle cx="504.85" cy="312.47" r="2.4" fill="#6da64d"/><circle cx="486.35" cy="312.47" r="2.4" fill="#7f7f7f"/><circle cx="504.85" cy="312.47" r="2.4" fill="#6da64d"/><circle cx="535.5" cy="282.01" r="2.4" fill="#7f7f7f"/><circle cx="554" cy="300.5" r="2.4" fill="#6da64d"/><circle cx="535.5" cy="292.89" r="2.4" fill="#7f7f7f"/><circle cx="554" cy="312.47" r="2.4" fill="#6da64d"/><circle cx="535.5" cy="312.47" r="2.4" fill="#7f7f7f"/><circle cx="554" cy="301.59" r="2.4" fill="#6da64d"/><circle cx="535.5" cy="312.47" r="2.4" fill="#7f7f7f"/><circle cx="554" cy="312.47" r="2.4" fill="#6da64d"/><circle cx="584.6" cy="312.47" r="2.4" fill="#7f7f7f"/><circle cx="603.1" cy="268.95" r="2.4" fill="#6da64d"/><circle cx="584.6" cy="312.47" r="2.4" fill="#7f7f7f"/><circle cx="603.1" cy="288.54" r="2.4" fill="#6da64d"/><circle cx="584.6" cy="312.47" r="2.4" fill="#7f7f7f"/><circle cx="603.1" cy="303.77" r="2.4" fill="#6da64d"/><circle cx="584.6" cy="304.86" r="2.4" fill="#7f7f7f"/><circle cx="603.1" cy="305.94" r="2.4" fill="#6da64d"/><circle cx="584.6" cy="312.47" r="2.4" fill="#7f7f7f"/><circle cx="603.1" cy="312.47" r="2.4" fill="#6da64d"/><path d="M584.6 280.8V239.6H602.6V251.6" fill="none" stroke="#666" stroke-width="1"/><circle cx="591.25" cy="233.8" r="1.3" fill="#111"/><line x1="591.25" y1="232.2" x2="591.25" y2="235.4" stroke="#111" stroke-width="1.1" stroke-linecap="round"/><line x1="589.86" y1="233" x2="592.64" y2="234.6" stroke="#111" stroke-width="1.1" stroke-linecap="round"/><line x1="592.64" y1="233" x2="589.86" y2="234.6" stroke="#111" stroke-width="1.1" stroke-linecap="round"/><circle cx="595.95" cy="233.8" r="1.3" fill="#111"/><line x1="595.95" y1="232.2" x2="595.95" y2="235.4" stroke="#111" stroke-width="1.1" stroke-linecap="round"/><line x1="594.56" y1="233" x2="597.34" y2="234.6" stroke="#111" stroke-width="1.1" stroke-linecap="round"/><line x1="597.34" y1="233" x2="594.56" y2="234.6" stroke="#111" stroke-width="1.1" stroke-linecap="round"/>
<path d="M89.5 374.45V483.7H230.7" fill="none" stroke="#8a8a8a" stroke-width="1"/><line x1="86" y1="468.5" x2="89.5" y2="468.5" stroke="#8a8a8a" stroke-width="1"/><text class="tk" x="84.1" y="471.4">0.0</text><line x1="86" y1="437.15" x2="89.5" y2="437.15" stroke="#8a8a8a" stroke-width="1"/><text class="tk" x="84.1" y="440.05">0.5</text><line x1="86" y1="405.8" x2="89.5" y2="405.8" stroke="#8a8a8a" stroke-width="1"/><text class="tk" x="84.1" y="408.7">1.0</text><line x1="86" y1="374.45" x2="89.5" y2="374.45" stroke="#8a8a8a" stroke-width="1"/><text class="tk" x="84.1" y="377.35">1.5</text><line x1="110.6" y1="483.7" x2="110.6" y2="487.3" stroke="#8a8a8a" stroke-width="1"/><text class="c" style="font-size:9px" transform="translate(109.8 496.9) scale(1 1)">Low</text><line x1="159.4" y1="483.7" x2="159.4" y2="487.3" stroke="#8a8a8a" stroke-width="1"/><text class="c" style="font-size:9px" transform="translate(159.4 496.9) scale(1 1)">Medium</text><line x1="208.7" y1="483.7" x2="208.7" y2="487.3" stroke="#8a8a8a" stroke-width="1"/><text class="c" style="font-size:9px" transform="translate(208.7 496.9) scale(1 1)">High</text><text class="c" style="font-size:9px" transform="translate(159.4 509.1) scale(1 1)">Dosage</text><text class="t c" transform="translate(56.7 427.57) rotate(-90)" x="0" y="0">IFN-γ producing</text><text class="t c" transform="translate(67 427.57) rotate(-90)" x="0" y="0">CD8+ cells (%)</text><line x1="91.1" y1="467.12" x2="230.7" y2="467.12" stroke="#444" stroke-width="1" stroke-dasharray="1 1.75"/><path d="M101.5 453.14L120 444.92M101.5 454.71L120 462.23M101.5 458.15L120 460.35M101.5 463.48L120 450.63M101.5 464.74L120 457.84M101.5 474.14L120 462.23M101.5 474.14L120 464.74M101.5 474.14L120 466.62M101.5 465.37L120 459.72M150.55 440.91L169.05 462.86M150.55 455.96L169.05 464.74M150.55 458.47L169.05 460.98M150.55 465.99L169.05 459.1M150.55 466.62L169.05 465.99M150.55 474.14L169.05 462.23M150.55 474.14L169.05 464.11M150.55 474.14L169.05 467.25M199.45 439.66L217.95 444.05M199.45 447.18L217.95 439.97M199.45 452.82L217.95 449.31M199.45 460.98L217.95 432.76M199.45 462.98L217.95 451.82M199.45 465.05L217.95 454.46M199.45 466.68L217.95 458.91M199.45 466.68L217.95 464.42" fill="none" stroke="#2a2a2a" stroke-width="0.75"/><circle cx="101.5" cy="453.14" r="2.4" fill="#7f7f7f"/><circle cx="120" cy="444.92" r="2.4" fill="#366f9f"/><circle cx="101.5" cy="454.71" r="2.4" fill="#7f7f7f"/><circle cx="120" cy="462.23" r="2.4" fill="#366f9f"/><circle cx="101.5" cy="458.15" r="2.4" fill="#7f7f7f"/><circle cx="120" cy="460.35" r="2.4" fill="#366f9f"/><circle cx="101.5" cy="463.48" r="2.4" fill="#7f7f7f"/><circle cx="120" cy="450.63" r="2.4" fill="#366f9f"/><circle cx="101.5" cy="464.74" r="2.4" fill="#7f7f7f"/><circle cx="120" cy="457.84" r="2.4" fill="#366f9f"/><circle cx="101.5" cy="474.14" r="2.4" fill="#7f7f7f"/><circle cx="120" cy="462.23" r="2.4" fill="#366f9f"/><circle cx="101.5" cy="474.14" r="2.4" fill="#7f7f7f"/><circle cx="120" cy="464.74" r="2.4" fill="#366f9f"/><circle cx="101.5" cy="474.14" r="2.4" fill="#7f7f7f"/><circle cx="120" cy="466.62" r="2.4" fill="#366f9f"/><circle cx="101.5" cy="465.37" r="2.4" fill="#7f7f7f"/><circle cx="120" cy="459.72" r="2.4" fill="#366f9f"/><circle cx="150.55" cy="440.91" r="2.4" fill="#7f7f7f"/><circle cx="169.05" cy="462.86" r="2.4" fill="#366f9f"/><circle cx="150.55" cy="455.96" r="2.4" fill="#7f7f7f"/><circle cx="169.05" cy="464.74" r="2.4" fill="#366f9f"/><circle cx="150.55" cy="458.47" r="2.4" fill="#7f7f7f"/><circle cx="169.05" cy="460.98" r="2.4" fill="#366f9f"/><circle cx="150.55" cy="465.99" r="2.4" fill="#7f7f7f"/><circle cx="169.05" cy="459.1" r="2.4" fill="#366f9f"/><circle cx="150.55" cy="466.62" r="2.4" fill="#7f7f7f"/><circle cx="169.05" cy="465.99" r="2.4" fill="#366f9f"/><circle cx="150.55" cy="474.14" r="2.4" fill="#7f7f7f"/><circle cx="169.05" cy="462.23" r="2.4" fill="#366f9f"/><circle cx="150.55" cy="474.14" r="2.4" fill="#7f7f7f"/><circle cx="169.05" cy="464.11" r="2.4" fill="#366f9f"/><circle cx="150.55" cy="474.14" r="2.4" fill="#7f7f7f"/><circle cx="169.05" cy="467.25" r="2.4" fill="#366f9f"/><circle cx="199.45" cy="439.66" r="2.4" fill="#7f7f7f"/><circle cx="217.95" cy="444.05" r="2.4" fill="#366f9f"/><circle cx="199.45" cy="447.18" r="2.4" fill="#7f7f7f"/><circle cx="217.95" cy="439.97" r="2.4" fill="#366f9f"/><circle cx="199.45" cy="452.82" r="2.4" fill="#7f7f7f"/><circle cx="217.95" cy="449.31" r="2.4" fill="#366f9f"/><circle cx="199.45" cy="460.98" r="2.4" fill="#7f7f7f"/><circle cx="217.95" cy="432.76" r="2.4" fill="#366f9f"/><circle cx="199.45" cy="462.98" r="2.4" fill="#7f7f7f"/><circle cx="217.95" cy="451.82" r="2.4" fill="#366f9f"/><circle cx="199.45" cy="465.05" r="2.4" fill="#7f7f7f"/><circle cx="217.95" cy="454.46" r="2.4" fill="#366f9f"/><circle cx="199.45" cy="466.68" r="2.4" fill="#7f7f7f"/><circle cx="217.95" cy="458.91" r="2.4" fill="#366f9f"/><circle cx="199.45" cy="466.68" r="2.4" fill="#7f7f7f"/><circle cx="217.95" cy="464.42" r="2.4" fill="#366f9f"/>
<path d="M281.5 374.75V484H422.7" fill="none" stroke="#8a8a8a" stroke-width="1"/><line x1="278" y1="468.8" x2="281.5" y2="468.8" stroke="#8a8a8a" stroke-width="1"/><text class="tk" x="276.1" y="471.7">0.0</text><line x1="278" y1="437.45" x2="281.5" y2="437.45" stroke="#8a8a8a" stroke-width="1"/><text class="tk" x="276.1" y="440.35">0.5</text><line x1="278" y1="406.1" x2="281.5" y2="406.1" stroke="#8a8a8a" stroke-width="1"/><text class="tk" x="276.1" y="409">1.0</text><line x1="278" y1="374.75" x2="281.5" y2="374.75" stroke="#8a8a8a" stroke-width="1"/><text class="tk" x="276.1" y="377.65">1.5</text><path d="M281.5 358.8V366.5" fill="none" stroke="#8a8a8a" stroke-width="1"/><line x1="278" y1="358.8" x2="281.5" y2="358.8" stroke="#8a8a8a" stroke-width="1"/><line x1="278.5" y1="366.5" x2="284" y2="366.5" stroke="#8a8a8a" stroke-width="1"/><line x1="278.5" y1="374.75" x2="284" y2="374.75" stroke="#8a8a8a" stroke-width="1"/><text class="tk" x="276.1" y="361.7">2.5</text><text class="tk" x="276.1" y="369.4">2.0</text><line x1="302.1" y1="484" x2="302.1" y2="487.6" stroke="#8a8a8a" stroke-width="1"/><text class="c" style="font-size:9px" transform="translate(301.3 496.9) scale(1 1)">Low</text><line x1="352" y1="484" x2="352" y2="487.6" stroke="#8a8a8a" stroke-width="1"/><text class="c" style="font-size:9px" transform="translate(352 496.9) scale(1 1)">Medium</text><line x1="401.3" y1="484" x2="401.3" y2="487.6" stroke="#8a8a8a" stroke-width="1"/><text class="c" style="font-size:9px" transform="translate(401.3 496.9) scale(1 1)">High</text><text class="c" style="font-size:9px" transform="translate(352 509.1) scale(1 1)">Dosage</text><text class="t c" transform="translate(248.7 419.9) rotate(-90)" x="0" y="0">IFN-γ producing</text><text class="t c" transform="translate(259 419.9) rotate(-90)" x="0" y="0">CD8+ cells (%)</text><line x1="283.1" y1="467.42" x2="422.7" y2="467.42" stroke="#444" stroke-width="1" stroke-dasharray="1 1.75"/><path d="M293.55 358.8L312.05 366.5M293.55 459.4L312.05 446.23M293.55 459.4L312.05 474.44M293.55 456.89L312.05 457.51M293.55 463.16L312.05 461.28M293.55 465.35L312.05 465.35M293.55 467.23L312.05 463.16M293.55 474.44L312.05 474.44M293.55 461.28L312.05 459.4M342.7 451.87L361.2 462.53M342.7 460.65L361.2 448.74M342.7 463.78L361.2 458.77M342.7 465.04L361.2 475.07M342.7 465.04L361.2 466.29M392 460.65L410.5 386.66M392 463.78L410.5 416.13M392 466.29L410.5 426.16M392 439.96L410.5 461.28M392 466.29L410.5 449.36M392 462.53L410.5 465.04M392 475.07L410.5 475.07M392 475.07L410.5 463.78M392 459.4L410.5 462.53" fill="none" stroke="#2a2a2a" stroke-width="0.75"/><circle cx="293.55" cy="358.8" r="2.4" fill="#7f7f7f"/><circle cx="312.05" cy="366.5" r="2.4" fill="#b24f4a"/><circle cx="293.55" cy="459.4" r="2.4" fill="#7f7f7f"/><circle cx="312.05" cy="446.23" r="2.4" fill="#b24f4a"/><circle cx="293.55" cy="459.4" r="2.4" fill="#7f7f7f"/><circle cx="312.05" cy="474.44" r="2.4" fill="#b24f4a"/><circle cx="293.55" cy="456.89" r="2.4" fill="#7f7f7f"/><circle cx="312.05" cy="457.51" r="2.4" fill="#b24f4a"/><circle cx="293.55" cy="463.16" r="2.4" fill="#7f7f7f"/><circle cx="312.05" cy="461.28" r="2.4" fill="#b24f4a"/><circle cx="293.55" cy="465.35" r="2.4" fill="#7f7f7f"/><circle cx="312.05" cy="465.35" r="2.4" fill="#b24f4a"/><circle cx="293.55" cy="467.23" r="2.4" fill="#7f7f7f"/><circle cx="312.05" cy="463.16" r="2.4" fill="#b24f4a"/><circle cx="293.55" cy="474.44" r="2.4" fill="#7f7f7f"/><circle cx="312.05" cy="474.44" r="2.4" fill="#b24f4a"/><circle cx="293.55" cy="461.28" r="2.4" fill="#7f7f7f"/><circle cx="312.05" cy="459.4" r="2.4" fill="#b24f4a"/><circle cx="342.7" cy="451.87" r="2.4" fill="#7f7f7f"/><circle cx="361.2" cy="462.53" r="2.4" fill="#b24f4a"/><circle cx="342.7" cy="460.65" r="2.4" fill="#7f7f7f"/><circle cx="361.2" cy="448.74" r="2.4" fill="#b24f4a"/><circle cx="342.7" cy="463.78" r="2.4" fill="#7f7f7f"/><circle cx="361.2" cy="458.77" r="2.4" fill="#b24f4a"/><circle cx="342.7" cy="465.04" r="2.4" fill="#7f7f7f"/><circle cx="361.2" cy="475.07" r="2.4" fill="#b24f4a"/><circle cx="342.7" cy="465.04" r="2.4" fill="#7f7f7f"/><circle cx="361.2" cy="466.29" r="2.4" fill="#b24f4a"/><circle cx="392" cy="460.65" r="2.4" fill="#7f7f7f"/><circle cx="410.5" cy="386.66" r="2.4" fill="#b24f4a"/><circle cx="392" cy="463.78" r="2.4" fill="#7f7f7f"/><circle cx="410.5" cy="416.13" r="2.4" fill="#b24f4a"/><circle cx="392" cy="466.29" r="2.4" fill="#7f7f7f"/><circle cx="410.5" cy="426.16" r="2.4" fill="#b24f4a"/><circle cx="392" cy="439.96" r="2.4" fill="#7f7f7f"/><circle cx="410.5" cy="461.28" r="2.4" fill="#b24f4a"/><circle cx="392" cy="466.29" r="2.4" fill="#7f7f7f"/><circle cx="410.5" cy="449.36" r="2.4" fill="#b24f4a"/><circle cx="392" cy="462.53" r="2.4" fill="#7f7f7f"/><circle cx="410.5" cy="465.04" r="2.4" fill="#b24f4a"/><circle cx="392" cy="475.07" r="2.4" fill="#7f7f7f"/><circle cx="410.5" cy="475.07" r="2.4" fill="#b24f4a"/><circle cx="392" cy="475.07" r="2.4" fill="#7f7f7f"/><circle cx="410.5" cy="463.78" r="2.4" fill="#b24f4a"/><circle cx="392" cy="459.4" r="2.4" fill="#7f7f7f"/><circle cx="410.5" cy="462.53" r="2.4" fill="#b24f4a"/><path d="M392 413V371.3H410V380.7" fill="none" stroke="#666" stroke-width="1"/><circle cx="401" cy="365.7" r="1.3" fill="#111"/><line x1="401" y1="364.1" x2="401" y2="367.3" stroke="#111" stroke-width="1.1" stroke-linecap="round"/><line x1="399.61" y1="364.9" x2="402.39" y2="366.5" stroke="#111" stroke-width="1.1" stroke-linecap="round"/><line x1="402.39" y1="364.9" x2="399.61" y2="366.5" stroke="#111" stroke-width="1.1" stroke-linecap="round"/>
<path d="M474.5 374.45V483.7H615.7" fill="none" stroke="#8a8a8a" stroke-width="1"/><line x1="471" y1="468.5" x2="474.5" y2="468.5" stroke="#8a8a8a" stroke-width="1"/><text class="tk" x="469.1" y="471.4">0.0</text><line x1="471" y1="437.15" x2="474.5" y2="437.15" stroke="#8a8a8a" stroke-width="1"/><text class="tk" x="469.1" y="440.05">0.5</text><line x1="471" y1="405.8" x2="474.5" y2="405.8" stroke="#8a8a8a" stroke-width="1"/><text class="tk" x="469.1" y="408.7">1.0</text><line x1="471" y1="374.45" x2="474.5" y2="374.45" stroke="#8a8a8a" stroke-width="1"/><text class="tk" x="469.1" y="377.35">1.5</text><line x1="495.6" y1="483.7" x2="495.6" y2="487.3" stroke="#8a8a8a" stroke-width="1"/><text class="c" style="font-size:9px" transform="translate(494.8 496.9) scale(1 1)">Low</text><line x1="544.4" y1="483.7" x2="544.4" y2="487.3" stroke="#8a8a8a" stroke-width="1"/><text class="c" style="font-size:9px" transform="translate(544.4 496.9) scale(1 1)">Medium</text><line x1="593.7" y1="483.7" x2="593.7" y2="487.3" stroke="#8a8a8a" stroke-width="1"/><text class="c" style="font-size:9px" transform="translate(593.7 496.9) scale(1 1)">High</text><text class="c" style="font-size:9px" transform="translate(544.4 509.1) scale(1 1)">Dosage</text><text class="t c" transform="translate(441.7 427.57) rotate(-90)" x="0" y="0">IFN-γ producing</text><text class="t c" transform="translate(452 427.57) rotate(-90)" x="0" y="0">CD8+ cells (%)</text><line x1="476.1" y1="467.12" x2="615.7" y2="467.12" stroke="#444" stroke-width="1" stroke-dasharray="1 1.75"/><path d="M486.35 441.54L504.85 460.35M486.35 459.1L504.85 462.23M486.35 460.98L504.85 464.11M486.35 463.48L504.85 474.14M486.35 464.74L504.85 466.62M486.35 474.14L504.85 465.37M486.35 474.14L504.85 474.14M486.35 457.84L504.85 460.98M535.5 445.93L554 430.88M535.5 457.53L554 449.06M535.5 459.72L554 455.02M535.5 462.23L554 460.35M535.5 463.48L554 462.86M535.5 464.11L554 465.37M535.5 460.98L554 466.62M535.5 474.77L554 474.77M584.6 457.84L603.1 453.77M584.6 460.35L603.1 455.96M584.6 462.23L603.1 458.47M584.6 464.11L603.1 460.98M584.6 465.99L603.1 462.86M584.6 467.25L603.1 464.74M584.6 474.77L603.1 463.48M584.6 460.98L603.1 459.72" fill="none" stroke="#2a2a2a" stroke-width="0.75"/><circle cx="486.35" cy="441.54" r="2.4" fill="#7f7f7f"/><circle cx="504.85" cy="460.35" r="2.4" fill="#6da64d"/><circle cx="486.35" cy="459.1" r="2.4" fill="#7f7f7f"/><circle cx="504.85" cy="462.23" r="2.4" fill="#6da64d"/><circle cx="486.35" cy="460.98" r="2.4" fill="#7f7f7f"/><circle cx="504.85" cy="464.11" r="2.4" fill="#6da64d"/><circle cx="486.35" cy="463.48" r="2.4" fill="#7f7f7f"/><circle cx="504.85" cy="474.14" r="2.4" fill="#6da64d"/><circle cx="486.35" cy="464.74" r="2.4" fill="#7f7f7f"/><circle cx="504.85" cy="466.62" r="2.4" fill="#6da64d"/><circle cx="486.35" cy="474.14" r="2.4" fill="#7f7f7f"/><circle cx="504.85" cy="465.37" r="2.4" fill="#6da64d"/><circle cx="486.35" cy="474.14" r="2.4" fill="#7f7f7f"/><circle cx="504.85" cy="474.14" r="2.4" fill="#6da64d"/><circle cx="486.35" cy="457.84" r="2.4" fill="#7f7f7f"/><circle cx="504.85" cy="460.98" r="2.4" fill="#6da64d"/><circle cx="535.5" cy="445.93" r="2.4" fill="#7f7f7f"/><circle cx="554" cy="430.88" r="2.4" fill="#6da64d"/><circle cx="535.5" cy="457.53" r="2.4" fill="#7f7f7f"/><circle cx="554" cy="449.06" r="2.4" fill="#6da64d"/><circle cx="535.5" cy="459.72" r="2.4" fill="#7f7f7f"/><circle cx="554" cy="455.02" r="2.4" fill="#6da64d"/><circle cx="535.5" cy="462.23" r="2.4" fill="#7f7f7f"/><circle cx="554" cy="460.35" r="2.4" fill="#6da64d"/><circle cx="535.5" cy="463.48" r="2.4" fill="#7f7f7f"/><circle cx="554" cy="462.86" r="2.4" fill="#6da64d"/><circle cx="535.5" cy="464.11" r="2.4" fill="#7f7f7f"/><circle cx="554" cy="465.37" r="2.4" fill="#6da64d"/><circle cx="535.5" cy="460.98" r="2.4" fill="#7f7f7f"/><circle cx="554" cy="466.62" r="2.4" fill="#6da64d"/><circle cx="535.5" cy="474.77" r="2.4" fill="#7f7f7f"/><circle cx="554" cy="474.77" r="2.4" fill="#6da64d"/><circle cx="584.6" cy="457.84" r="2.4" fill="#7f7f7f"/><circle cx="603.1" cy="453.77" r="2.4" fill="#6da64d"/><circle cx="584.6" cy="460.35" r="2.4" fill="#7f7f7f"/><circle cx="603.1" cy="455.96" r="2.4" fill="#6da64d"/><circle cx="584.6" cy="462.23" r="2.4" fill="#7f7f7f"/><circle cx="603.1" cy="458.47" r="2.4" fill="#6da64d"/><circle cx="584.6" cy="464.11" r="2.4" fill="#7f7f7f"/><circle cx="603.1" cy="460.98" r="2.4" fill="#6da64d"/><circle cx="584.6" cy="465.99" r="2.4" fill="#7f7f7f"/><circle cx="603.1" cy="462.86" r="2.4" fill="#6da64d"/><circle cx="584.6" cy="467.25" r="2.4" fill="#7f7f7f"/><circle cx="603.1" cy="464.74" r="2.4" fill="#6da64d"/><circle cx="584.6" cy="474.77" r="2.4" fill="#7f7f7f"/><circle cx="603.1" cy="463.48" r="2.4" fill="#6da64d"/><circle cx="584.6" cy="460.98" r="2.4" fill="#7f7f7f"/><circle cx="603.1" cy="459.72" r="2.4" fill="#6da64d"/><path d="M584.6 458.4V441.8H602.6V447.6" fill="none" stroke="#666" stroke-width="1"/><circle cx="593.6" cy="436.5" r="1.04" fill="#111"/><line x1="593.6" y1="435.22" x2="593.6" y2="437.78" stroke="#111" stroke-width="1.1" stroke-linecap="round"/><line x1="592.49" y1="435.86" x2="594.71" y2="437.14" stroke="#111" stroke-width="1.1" stroke-linecap="round"/><line x1="594.71" y1="435.86" x2="592.49" y2="437.14" stroke="#111" stroke-width="1.1" stroke-linecap="round"/>
</svg></body></html>
